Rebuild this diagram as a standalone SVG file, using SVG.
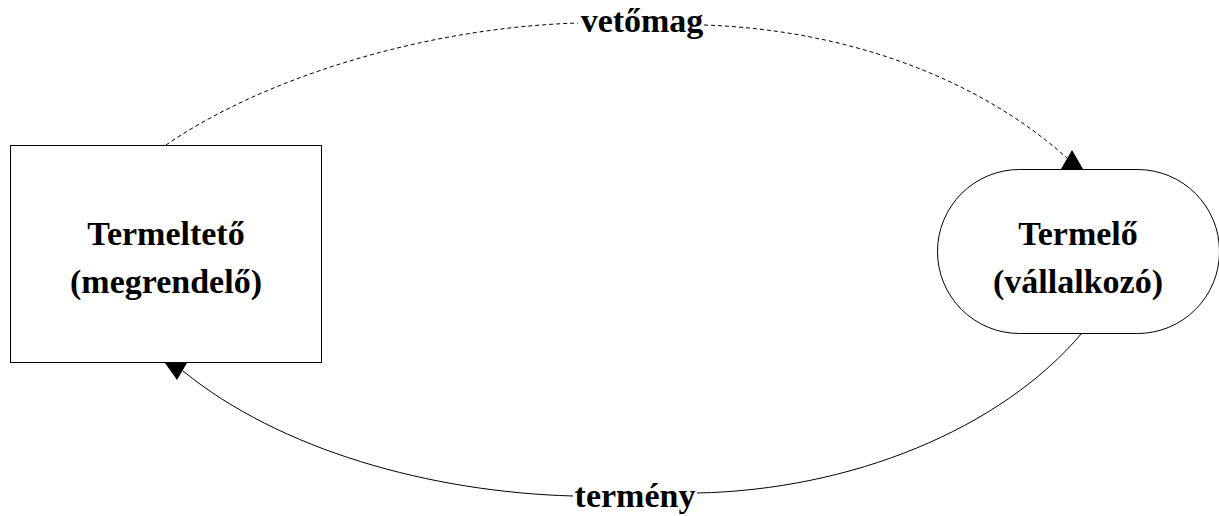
<svg xmlns="http://www.w3.org/2000/svg" width="1219" height="516" viewBox="0 0 1219 516">
<style>
.node{fill:#fff;stroke:#000;stroke-width:1}
.lbl{font-family:"Liberation Serif","Times New Roman",serif;font-weight:bold;font-size:34px;fill:#000;text-anchor:middle}
.conn{fill:none;stroke:#000;stroke-width:1}
.dash{stroke-dasharray:4 3}
.head{fill:#000;stroke:none}
</style>
<rect width="1219" height="516" fill="#fff"/>
<g id="node-termelteto">
<rect class="node" x="10.5" y="145.5" width="311" height="217"/>
<text class="lbl" x="166" y="245">Termeltető</text>
<text class="lbl" x="166" y="293">(megrendelő)</text>
</g>
<g id="node-termelo">
<rect class="node" x="937.5" y="169.5" width="282" height="164" rx="82" ry="82"/>
<text class="lbl" x="1078" y="245">Termelő</text>
<text class="lbl" x="1078" y="293">(vállalkozó)</text>
</g>
<g id="connectors">
<path class="conn dash" d="M166,145 C260,80 420,28 578,23"/>
<path class="conn dash" d="M704,25 C850,30 980,80 1067,158"/>
<polygon class="head" points="1072,150 1061,169 1083,169"/>
<path class="conn" d="M1082,333 C1000,430 850,490 697,493"/>
<path class="conn" d="M573,496 C430,492 280,450 183,371"/>
<polygon class="head" points="165,363 187,363 177,380"/>
<text class="lbl" x="642" y="32">vetőmag</text>
<text class="lbl" x="635" y="507">termény</text>
</g>
</svg>
